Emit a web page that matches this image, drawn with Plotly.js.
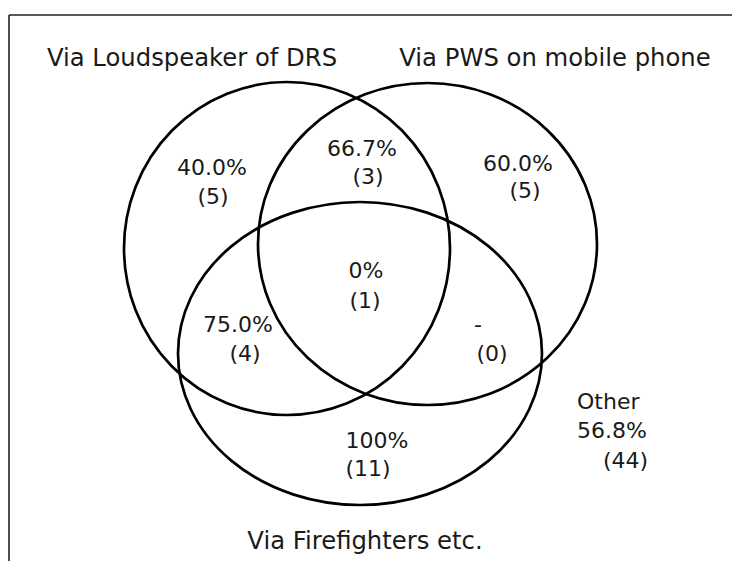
<!DOCTYPE html>
<html>
<head>
<meta charset="utf-8">
<script src="https://cdn.plot.ly/plotly-3.0.1.min.js"></script>
<style>
  html, body { margin: 0; padding: 0; background: #ffffff; }
  #chart { width: 732px; height: 561px; }
</style>
</head>
<body>
<div id="chart"></div>
<script>
// ---- Data ----
const setNames = ["Via Loudspeaker of DRS", "Via PWS on mobile phone", "Via Firefighters etc."];
const regionNames = ["Loudspeaker only", "PWS only", "Firefighters only",
                     "Loudspeaker & PWS", "Loudspeaker & Firefighters", "PWS & Firefighters",
                     "All three"];
const regionPercents = ["40.0%", "60.0%", "100%", "66.7%", "75.0%", "-", "0%"];
const regionCounts = [5, 5, 11, 3, 4, 0, 1];
const otherLabel = "Other";
const otherPercent = "56.8%";
const otherCount = 44;

// ---- Layout geometry (pixel-space coordinates on a 732x561 canvas) ----
const setEllipses = [
  {x0: 124, x1: 450, y0: 82, y1: 415},
  {x0: 258, x1: 597, y0: 83, y1: 405},
  {x0: 178, x1: 542, y0: 202, y1: 505}
];
const setLabelPos = [[192, 60], [555, 60], [365, 543]];
const pctPos = [[212, 169], [518, 165], [377, 442], [362, 150], [238, 326], [478, 326], [366, 272]];
const cntPos = [[213, 198], [525, 192], [368, 470], [368, 178], [245, 355], [492, 355], [365, 302]];
const otherPos = [[577, 403], [577, 432], [603, 462]];

const FONT = "DejaVu Sans, Verdana, sans-serif";
const INK = "#1a1a1a";

const traces = [
  {
    type: "scatter", mode: "text", name: "percent",
    x: pctPos.map(p => p[0]), y: pctPos.map(p => p[1]),
    text: regionPercents, customdata: regionNames,
    textposition: "middle center",
    textfont: {family: FONT, size: 22, color: INK},
    hoverinfo: "none", showlegend: false, cliponaxis: false
  },
  {
    type: "scatter", mode: "text", name: "count",
    x: cntPos.map(p => p[0]), y: cntPos.map(p => p[1]),
    text: regionCounts.map(c => "(" + c + ")"),
    textposition: "middle center",
    textfont: {family: FONT, size: 22, color: INK},
    hoverinfo: "none", showlegend: false, cliponaxis: false
  },
  {
    type: "scatter", mode: "text", name: "other",
    x: otherPos.map(p => p[0]), y: otherPos.map(p => p[1]),
    text: [otherLabel, otherPercent, "(" + otherCount + ")"],
    textposition: "middle right",
    textfont: {family: FONT, size: 22, color: INK},
    hoverinfo: "none", showlegend: false, cliponaxis: false
  },
  {
    type: "scatter", mode: "text", name: "sets",
    x: setLabelPos.map(p => p[0]), y: setLabelPos.map(p => p[1]),
    text: setNames,
    textposition: "middle center",
    textfont: {family: FONT, size: 24.3, color: INK},
    hoverinfo: "none", showlegend: false, cliponaxis: false
  }
];

const shapes = setEllipses.map(e => ({
  type: "circle", xref: "x", yref: "y",
  x0: e.x0, x1: e.x1, y0: e.y0, y1: e.y1,
  line: {color: "#000000", width: 2.7}, fillcolor: "rgba(0,0,0,0)"
}));
// frame (top and left edges only, as in the reference)
shapes.push({type: "line", xref: "x", yref: "y", x0: 9, x1: 732, y0: 15, y1: 15,
             line: {color: "#222222", width: 1.6}});
shapes.push({type: "line", xref: "x", yref: "y", x0: 9, x1: 9, y0: 15, y1: 561,
             line: {color: "#222222", width: 1.6}});

const layout = {
  width: 732, height: 561,
  margin: {l: 0, r: 0, t: 0, b: 0, pad: 0},
  paper_bgcolor: "#ffffff", plot_bgcolor: "#ffffff",
  xaxis: {range: [0, 732], visible: false, fixedrange: true},
  yaxis: {range: [561, 0], visible: false, fixedrange: true},
  shapes: shapes,
  showlegend: false
};

Plotly.newPlot("chart", traces, layout, {displayModeBar: false, staticPlot: true});
</script>
</body>
</html>
